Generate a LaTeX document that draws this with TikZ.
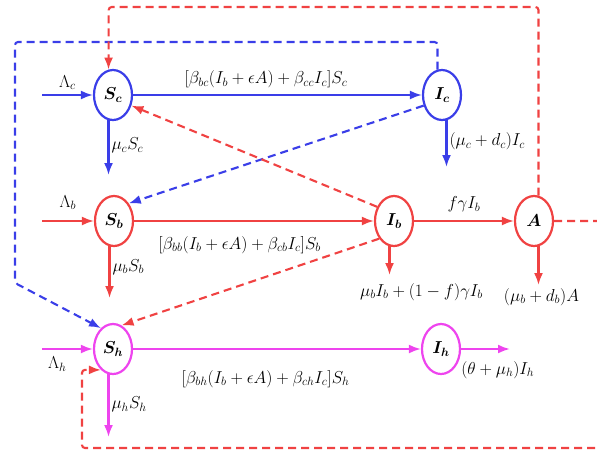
\documentclass[tikz,border=0pt]{standalone}
\usepackage{amsmath,amssymb}
\usetikzlibrary{arrows.meta,shapes.geometric}
\definecolor{azulc}{RGB}{58,62,232}
\definecolor{rojob}{RGB}{240,66,66}
\definecolor{magh}{RGB}{238,68,238}
\tikzset{
  comp/.style={ellipse, draw, line width=2.2pt, fill=white, minimum width=38pt, minimum height=50pt, inner sep=0pt, font=\fontsize{17}{20}\selectfont},
  fl/.style={-{Latex[length=12pt,width=9pt]}, line width=2.1pt},
  fld/.style={fl, dash pattern=on 8pt off 5pt, rounded corners=3pt},
  et/.style={font=\fontsize{16.5}{20}\selectfont, text=black, inner sep=2pt},
}

\begin{document}
\begin{tikzpicture}[x=1pt,y=-1pt]
  \useasboundingbox (0,0) rectangle (597,456);
  % compartments
  \node[comp, draw=azulc] (Sc) at (113,95) {$\boldsymbol{S_c}$};
  \node[comp, draw=azulc] (Ic) at (442,95) {$\boldsymbol{I_c}$};
  \node[comp, draw=rojob] (Sb) at (114,221) {$\boldsymbol{S_b}$};
  \node[comp, draw=rojob] (Ib) at (394,221) {$\boldsymbol{I_b}$};
  \node[comp, draw=rojob] (A)  at (534,221) {$\boldsymbol{A}$};
  \node[comp, draw=magh]  (Sh) at (113,349) {$\boldsymbol{S_h}$};
  \node[comp, draw=magh]  (Ih) at (441,349) {$\boldsymbol{I_h}$};
  % free ends
  \coordinate (lc) at (42,95);   \coordinate (lb) at (42,221);  \coordinate (lh) at (42,349);
  \coordinate (scd) at (108,175); \coordinate (icd) at (447,167);
  \coordinate (sbd) at (109,298); \coordinate (ibd) at (389,275); \coordinate (ad) at (538,285);
  \coordinate (shd) at (108,437); \coordinate (ihr) at (510,349);
  \coordinate (bt) at (15,42);    \coordinate (bb) at (15,283);
  \coordinate (rt) at (108.7,7);  \coordinate (rbr) at (612,448); \coordinate (rbl) at (82,448);
  % cattle
  \draw[fl, azulc] (lc) -- node[et, above=2pt]{$\Lambda_c$} (Sc);
  \draw[fl, azulc] (Sc) -- node[et, above=4pt, pos=0.46]{$[\beta_{bc}(I_b+\epsilon A)+\beta_{cc}I_c]S_c$} (Ic);
  \draw[fl, azulc] (Sc.-100) -- (Sc.-100 |- scd) node[et, right, pos=0.46]{$\mu_c S_c$};
  \draw[fl, azulc] (Ic.-80) -- (Ic.-80 |- icd) node[et, right, pos=0.45]{$(\mu_c+d_c)I_c$};
  \draw[fld, azulc] (Ic.210) -- (Sb.50);
  \draw[fld, azulc] (Ic.100) |- (bt) -- (bb) -- (Sh.120);
  % birds
  \draw[fl, rojob] (lb) -- node[et, above=8pt]{$\Lambda_b$} (Sb);
  \draw[fl, rojob] (Sb) -- node[et, below=12pt, pos=0.44]{$[\beta_{bb}(I_b+\epsilon A)+\beta_{cb}I_c]S_b$} (Ib);
  \draw[fl, rojob] (Sb.-100) -- (Sb.-100 |- sbd) node[et, right, pos=0.4]{$\mu_b S_b$};
  \draw[fl, rojob] (Ib) -- node[et, above=6pt]{$f\gamma I_b$} (A);
  \draw[fl, rojob] (Ib.-100) -- (Ib.-100 |- ibd) node[et, below=5pt, xshift=32pt]{$\mu_b I_b+(1-f)\gamma I_b$};
  \draw[fl, rojob] (A.-80) -- (A.-80 |- ad) node[et, below, xshift=3pt]{$(\mu_b+d_b)A$};
  \draw[fld, rojob] (Ib.140) -- (Sc.-30);
  \draw[fld, rojob] (Ib.230) -- (Sh.70);
  \draw[fld, rojob] (A.80) |- (rt) -- (Sc.100);
  \draw[fld, rojob] (A.east) -- (A.east -| rbr) -- (rbr) -- (rbl) |- (Sh.-120);
  % humans
  \draw[fl, magh] (lh) -- node[et, below=5pt, pos=0.3]{$\Lambda_h$} (Sh);
  \draw[fl, magh] (Sh) -- node[et, below=18pt, pos=0.46]{$[\beta_{bh}(I_b+\epsilon A)+\beta_{ch}I_c]S_h$} (Ih);
  \draw[fl, magh] (Sh.-100) -- (Sh.-100 |- shd) node[et, right, pos=0.48]{$\mu_h S_h$};
  \draw[fl, magh] (Ih) -- node[et, below=9pt, pos=0.75]{$(\theta+\mu_h)I_h$} (ihr);
\end{tikzpicture}
\end{document}
